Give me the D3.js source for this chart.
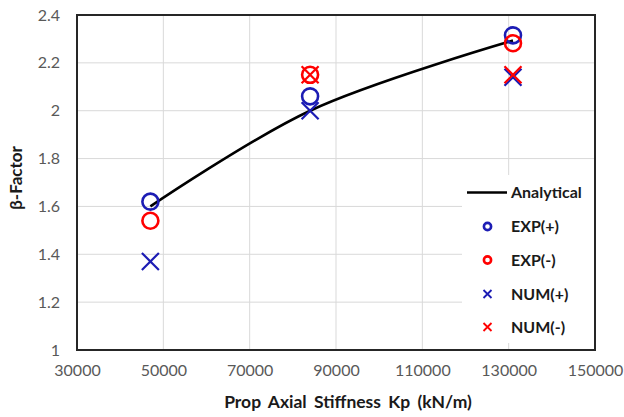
<!DOCTYPE html>
<html>
<head>
<meta charset="utf-8">
<script src="https://cdn.jsdelivr.net/npm/d3@7"></script>
<style>
  html, body { margin: 0; padding: 0; background: #ffffff; }
  svg { display: block; }
  text { font-family: Lato, "Open Sans", sans-serif; }
</style>
</head>
<body>
<svg id="chart" width="624" height="417"></svg>
<script>
// Prop axial stiffness (kN/m) and beta-factor results
const analyticalK = [47000, 84000, 131000];
const analyticalBeta = [1.60, 2.00, 2.293];

const expPosK = [47000, 84000, 131000];
const expPosBeta = [1.62, 2.06, 2.315];

const expNegK = [47000, 84000, 131000];
const expNegBeta = [1.54, 2.15, 2.282];

const numPosK = [47000, 84000, 131000];
const numPosBeta = [1.37, 2.00, 2.14];

const numNegK = [84000, 131000];
const numNegBeta = [2.15, 2.15];

const xTicks = [30000, 50000, 70000, 90000, 110000, 130000, 150000];
const yTicks = [1, 1.2, 1.4, 1.6, 1.8, 2, 2.2, 2.4];

const legendLabels = ["Analytical", "EXP(+)", "EXP(-)", "NUM(+)", "NUM(-)"];

const BLUE = "#1c1cb4";
const RED = "#ff0000";

const svg = d3.select("#chart");
const W = 624, H = 417;
const margin = { left: 77, right: 29, top: 15, bottom: 67 };
const x0 = margin.left, x1 = W - margin.right;
const y0 = H - margin.bottom, y1 = margin.top;

const x = d3.scaleLinear().domain([30000, 150000]).range([x0, x1]);
const y = d3.scaleLinear().domain([1, 2.4]).range([y0, y1]);

// gridlines
const grid = svg.append("g");
grid.selectAll("line.gx").data(xTicks).join("line")
  .attr("x1", d => x(d)).attr("x2", d => x(d))
  .attr("y1", y0).attr("y2", y1)
  .attr("stroke", "#d9d9d9").attr("stroke-width", 1);
grid.selectAll("line.gy").data(yTicks).join("line")
  .attr("y1", d => y(d)).attr("y2", d => y(d))
  .attr("x1", x0).attr("x2", x1)
  .attr("stroke", "#d9d9d9").attr("stroke-width", 1);

// axes with labels only
const xAxis = d3.axisBottom(x).tickValues(xTicks).tickSize(0).tickPadding(15)
  .tickFormat(d3.format("d"));
const yAxis = d3.axisLeft(y).tickValues(yTicks).tickSize(0).tickPadding(17)
  .tickFormat(d => d3.format("")(+d.toFixed(1)));

const gx = svg.append("g").attr("transform", `translate(0,${y0})`).call(xAxis);
const gy = svg.append("g").attr("transform", `translate(${x0},0)`).call(yAxis);
[gx, gy].forEach(g => {
  g.select(".domain").remove();
  g.selectAll("text").attr("fill", "#595959").style("font-size", "16px");
});

// plot frame
svg.append("rect")
  .attr("x", x0).attr("y", y1)
  .attr("width", x1 - x0).attr("height", y0 - y1)
  .attr("fill", "none").attr("stroke", "#262626").attr("stroke-width", 2);

// legend background (covers gridlines)
const legX = 462, legY = 175;
svg.append("rect")
  .attr("x", legX).attr("y", legY)
  .attr("width", x1 - 1 - legX).attr("height", 168)
  .attr("fill", "#ffffff");

// analytical curve
const line = d3.line()
  .x(d => x(d[0])).y(d => y(d[1]))
  .curve(d3.curveCatmullRom.alpha(0.5));
svg.append("path")
  .datum(d3.zip(analyticalK, analyticalBeta))
  .attr("d", line)
  .attr("fill", "none").attr("stroke", "#000000").attr("stroke-width", 2.6);

function circles(ks, bs, color) {
  svg.append("g").selectAll("circle").data(d3.zip(ks, bs)).join("circle")
    .attr("cx", d => x(d[0])).attr("cy", d => y(d[1])).attr("r", 8)
    .attr("fill", "none").attr("stroke", color).attr("stroke-width", 2.6);
}
function crosses(ks, bs, color) {
  const s = 8.5;
  svg.append("g").selectAll("path").data(d3.zip(ks, bs)).join("path")
    .attr("d", d => {
      const cx = x(d[0]), cy = y(d[1]);
      return `M${cx - s},${cy - s}L${cx + s},${cy + s}M${cx - s},${cy + s}L${cx + s},${cy - s}`;
    })
    .attr("fill", "none").attr("stroke", color).attr("stroke-width", 2.2);
}

crosses(numPosK, numPosBeta, BLUE);
crosses(numNegK, numNegBeta, RED);
circles(expPosK, expPosBeta, BLUE);
circles(expNegK, expNegBeta, RED);

// legend
const legRows = [192.5, 226.5, 260, 294, 327];
const leg = svg.append("g");
legendLabels.forEach((lab, i) => {
  const cy = legRows[i];
  if (i === 0) {
    leg.append("line").attr("x1", 467).attr("x2", 507).attr("y1", cy).attr("y2", cy)
      .attr("stroke", "#000").attr("stroke-width", 2.6);
  } else if (i <= 2) {
    leg.append("circle").attr("cx", 487.5).attr("cy", cy).attr("r", 3.6)
      .attr("fill", "none").attr("stroke", i === 1 ? BLUE : RED).attr("stroke-width", 2.6);
  } else {
    const s = 4;
    leg.append("path")
      .attr("d", `M${487.5 - s},${cy - s}L${487.5 + s},${cy + s}M${487.5 - s},${cy + s}L${487.5 + s},${cy - s}`)
      .attr("stroke", i === 3 ? BLUE : RED).attr("stroke-width", 1.8).attr("fill", "none");
  }
  leg.append("text").attr("x", 511).attr("y", cy).attr("dy", "0.35em")
    .attr("fill", "#1a1a1a").style("font-size", "16px").style("font-weight", "bold")
    .text(lab);
});

// axis titles
svg.append("text")
  .attr("x", 348).attr("y", 408)
  .attr("text-anchor", "middle")
  .attr("fill", "#1a1a1a").style("font-size", "17.5px").style("font-weight", "bold")
  .style("word-spacing", "3px")
  .text("Prop Axial Stiffness Kp (kN/m)");

svg.append("text")
  .attr("transform", `translate(22,178) rotate(-90)`)
  .attr("text-anchor", "middle")
  .attr("fill", "#1a1a1a").style("font-size", "17px").style("font-weight", "bold")
  .text("β-Factor");
</script>
</body>
</html>
